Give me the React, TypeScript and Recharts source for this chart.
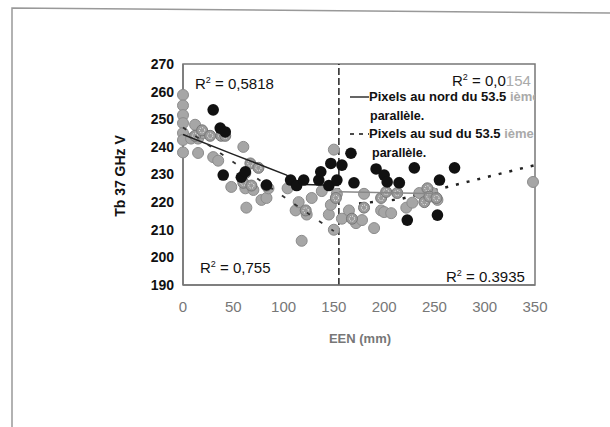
import { ScatterChart, Scatter, XAxis, YAxis, ReferenceArea, ReferenceLine } from "recharts";

// south of 53.5° (grey dots)
const southX = [0, 0, 0, 0, 0, 0, 0, 8, 12, 15, 15, 20, 30, 35, 60, 48, 62, 70, 78, 83, 85, 63, 104, 112, 115, 118, 123, 128, 138, 145, 147, 150, 150, 153, 158, 165, 172, 178, 180, 190, 197, 200, 207, 222, 228, 235, 248, 253, 348];
const southY = [258.8, 255, 251.5, 248.6, 245, 242.5, 238, 243, 248, 243, 237.8, 245, 236.3, 235, 240, 225.5, 225, 224.4, 220.8, 221.5, 225, 218, 225, 217, 220, 206, 215.5, 221.5, 224, 215.5, 219, 210, 239, 223, 214, 217, 212.4, 213.5, 223, 210.6, 217, 216.4, 216, 218, 219.8, 223.3, 223.3, 220.8, 227.3];

// north of 53.5° (black dots)
const northX = [30, 37, 42, 40, 58, 62, 83, 107, 113, 120, 135, 137, 145, 147, 153, 158, 167, 170, 192, 200, 203, 215, 223, 230, 253, 255, 270];
const northY = [253.4, 246.8, 245.4, 229.8, 229, 231, 226.2, 228, 226, 228, 228, 231, 226, 234, 228, 233.4, 237.7, 227, 232, 229.8, 227.3, 227, 213.5, 232.4, 215.3, 228, 232.4];

// overlapping / hatched dots
const hatchX = [12, 19, 27, 38, 42, 67, 75, 62, 60, 68, 83, 122, 152, 168, 180, 197, 202, 213, 215, 240, 243, 245, 252];
const hatchY = [244, 246, 244, 244, 244, 234, 232.4, 230.5, 227, 226, 226, 217, 221.5, 214, 218, 221.5, 223.7, 223.3, 227, 220, 225, 222, 221.5];

// trend lines
const northLeftX = [0, 50, 103, 112, 155];
const northLeftY = [244.5, 237.3, 229.8, 226.5, 226];
const northRightX = [155, 255];
const northRightY = [223.8, 223];
const southLeftX = [0, 150];
const southLeftY = [247, 209.5];
const southRightX = [175, 215, 255, 300, 350];
const southRightY = [219.5, 221, 224.8, 228.9, 233.4];

const xTicks = [0, 50, 100, 150, 200, 250, 300, 350];
const yTicks = [190, 200, 210, 220, 230, 240, 250, 260, 270];

const pts = (xs: number[], ys: number[]) => xs.map((x, i) => ({ x, y: ys[i] }));

const font = "'Liberation Sans', Arial, sans-serif";

const GrayDot = (p: any) => (
  <circle cx={p.cx} cy={p.cy} r={5.5} fill="#a6a6a6" stroke="#8c8c8c" strokeWidth={1} />
);
const BlackDot = (p: any) => <circle cx={p.cx} cy={p.cy} r={5.8} fill="#111" />;
const HatchDot = (p: any) => (
  <g>
    <circle cx={p.cx} cy={p.cy} r={5.5} fill="#9a9a9a" stroke="#777" strokeWidth={1} />
    <circle cx={p.cx} cy={p.cy} r={2.6} fill="none" stroke="#fff" strokeWidth={1} strokeDasharray="1 1.4" />
  </g>
);
const NoDot = () => <g />;

function R2({ x, y, value, anchor = "start", faded }: { x: number; y: number; value: string; anchor?: string; faded?: string }) {
  return (
    <text x={x} y={y} textAnchor={anchor as any} fontFamily={font} fontSize={15} fill="#111">
      R<tspan dy={-6} fontSize={9}>2</tspan>
      <tspan dy={6}> = {value}</tspan>
      {faded && <tspan fill="#aaa">{faded}</tspan>}
    </text>
  );
}

export default function App() {
  return (
    <div style={{ position: "absolute", left: 0, top: 0, width: 610, height: 427, background: "#fff" }}>
      <ScatterChart width={610} height={427} margin={{ top: 64, right: 75, bottom: 82, left: 0 }}>
        <XAxis
          type="number"
          dataKey="x"
          domain={[0, 350]}
          ticks={xTicks}
          height={60}
          axisLine={{ stroke: "#777", strokeWidth: 1.5 }}
          tickLine={false}
          tickMargin={10}
          tick={{ fill: "#777", fontSize: 15, fontFamily: font }}
        />
        <YAxis
          type="number"
          dataKey="y"
          domain={[190, 270]}
          ticks={yTicks}
          width={183}
          axisLine={{ stroke: "#777", strokeWidth: 1.5 }}
          tickLine={false}
          tickMargin={3}
          tick={{ fill: "#111", fontSize: 14, fontWeight: 700, fontFamily: font }}
        />
        <ReferenceArea x1={0} x2={350} y1={190} y2={270} fill="none" stroke="#777" strokeWidth={1.5} />
        <Scatter data={pts(southRightX, southRightY)} line={{ stroke: "#222", strokeWidth: 2.5, strokeDasharray: "3 8" }} shape={NoDot} isAnimationActive={false} />
        <Scatter data={pts(southX, southY)} shape={GrayDot} isAnimationActive={false} />
        <Scatter data={pts(hatchX, hatchY)} shape={HatchDot} isAnimationActive={false} />
        <Scatter data={pts(northLeftX, northLeftY)} line={{ stroke: "#222", strokeWidth: 1.5 }} shape={NoDot} isAnimationActive={false} />
        <Scatter data={pts(northRightX, northRightY)} line={{ stroke: "#888", strokeWidth: 1.5 }} shape={NoDot} isAnimationActive={false} />
        <Scatter data={pts(southLeftX, southLeftY)} line={{ stroke: "#333", strokeWidth: 1.8, strokeDasharray: "4 11" }} shape={NoDot} isAnimationActive={false} />
        <Scatter data={pts(northX, northY)} shape={BlackDot} isAnimationActive={false} />
        <ReferenceLine x={155} stroke="#222" strokeWidth={1.5} strokeDasharray="7 3" />
      </ScatterChart>

      <svg width={610} height={427} style={{ position: "absolute", left: 0, top: 0, pointerEvents: "none" }}>
        <defs>
          <clipPath id="boxclip">
            <rect x={0} y={0} width={535} height={427} />
          </clipPath>
        </defs>
        <polyline points="12,427 12,8 610,13" fill="none" stroke="#999" strokeWidth={1.5} />

        <text x={125} y={176} transform="rotate(-90 125 176)" textAnchor="middle" fontFamily={font} fontSize={14} fontWeight={700} fill="#111">
          Tb 37 GHz V
        </text>
        <text x={360} y={343} textAnchor="middle" fontFamily={font} fontSize={13} fontWeight={700} fill="#777">
          EEN (mm)
        </text>

        <R2 x={195} y={89} value="0,5818" />
        <R2 x={200} y={273} value="0,755" />
        <R2 x={446} y={282} value="0.3935" />
        <g clipPath="url(#boxclip)">
          <R2 x={452} y={86} value="0,0" faded="154" />
          <line x1={350} y1={97} x2={369} y2={97} stroke="#111" strokeWidth={1.3} />
          <text x={369} y={101} fontFamily={font} fontSize={13} fontWeight={700} fill="#111">
            Pixels au nord du 53.5 <tspan fill="#aaa">ième</tspan>
          </text>
          <text x={370} y={120} fontFamily={font} fontSize={12.5} fontWeight={700} fill="#111">
            parallèle.
          </text>
          <line x1={350} y1={134} x2={369} y2={134} stroke="#111" strokeWidth={1.3} strokeDasharray="4 5" />
          <text x={369} y={138} fontFamily={font} fontSize={13} fontWeight={700} fill="#111">
            Pixels au sud du 53.5 <tspan fill="#aaa">ième</tspan>
          </text>
          <text x={372} y={157} fontFamily={font} fontSize={12.5} fontWeight={700} fill="#111">
            parallèle.
          </text>
        </g>
      </svg>
    </div>
  );
}
